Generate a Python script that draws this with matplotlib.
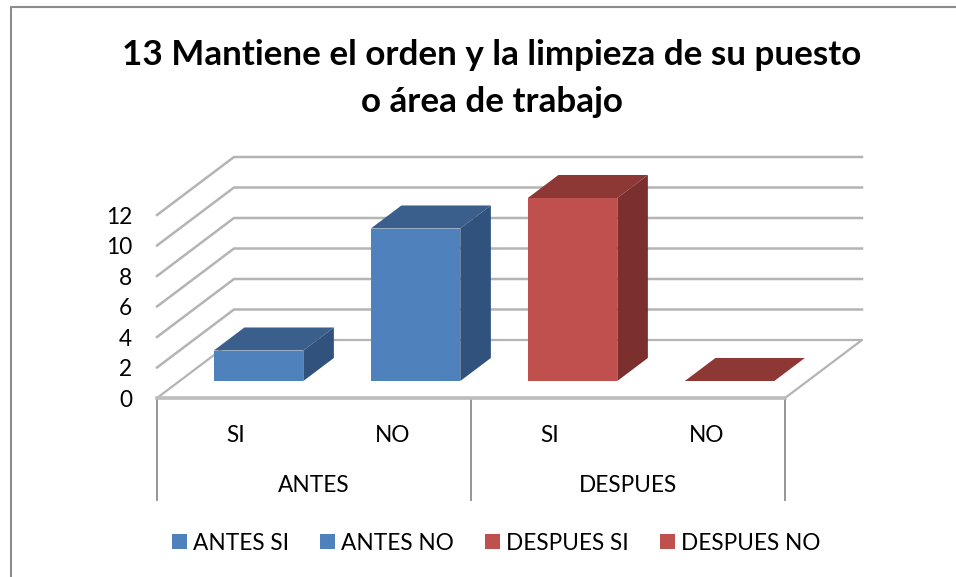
import matplotlib
matplotlib.use("Agg")
import matplotlib.pyplot as plt
from matplotlib.patches import Patch, Polygon

plt.rcParams['font.family'] = ['Lato', 'DejaVu Sans']

title = '13 Mantiene el orden y la limpieza de su puesto\no área de trabajo'
groups = ['ANTES', 'DESPUES']
categories = ['SI', 'NO', 'SI', 'NO']
series_names = ['ANTES SI', 'ANTES NO', 'DESPUES SI', 'DESPUES NO']
values = [2, 10, 12, 0]
y_ticks = [0, 2, 4, 6, 8, 10, 12]

# front, top, side shades per series
blue = ('#4f81bd', '#3a5f8c', '#31527c')
red = ('#c0504d', '#8e3836', '#7c302e')
colors = [blue, blue, red, red]

W, H = 956, 577
# pixels of the chart origin and scales, the rest is in data units
x0, y0 = 157, 398
px_cat = 157.0
px_val = 15.25
depth_x = 77 / px_cat
depth_y = 58 / px_val


def project(x, v, d=0.0):
	# oblique projection of the fake 3d box onto the flat axes
	return (x + d * depth_x, v + d * depth_y)


fig = plt.figure(figsize=(W / 100, H / 100), dpi=100)
ax = fig.add_axes([0, 0, 1, 1])
ax.set_xlim(-x0 / px_cat, (W - x0) / px_cat)
ax.set_ylim((y0 - H) / px_val, y0 / px_val)
ax.axis('off')

# outer chart border, right and bottom run off the picture
ax.plot([11 / W, 11 / W, 1], [0, 1 - 7 / H, 1 - 7 / H], transform=ax.transAxes,
	color='#8c8c8c', lw=1.5, clip_on=False)

# gridlines on side wall and back wall
n_cat = len(categories)
grid_color = '#b4b4b4'
for v in y_ticks:
	a = project(0, v, 0)
	b = project(0, v, 1)
	c = project(n_cat, v, 1)
	if v == 0:
		continue
	ax.plot([a[0], b[0], c[0]], [a[1], b[1], c[1]], color=grid_color, lw=1.8,
		solid_joinstyle='miter', zorder=1)

# floor
floor = [project(0, 0, 0), project(n_cat, 0, 0), project(n_cat, 0, 1), project(0, 0, 1)]
ax.add_patch(Polygon(floor, closed=True, facecolor='white', edgecolor='none', zorder=1.5))
fx = [p[0] for p in floor] + [floor[0][0]]
fy = [p[1] for p in floor] + [floor[0][1]]
ax.plot(fx, fy, color=grid_color, lw=1.6, zorder=2)
ax.plot([0, n_cat], [0, 0], color='#bdbdbd', lw=2.6, zorder=2)

# bars
bar_w = 0.57
d_front = 0.293
d_back = 0.69
for i, v in enumerate(values):
	left = i + 0.5 - bar_w / 2 + 0.5 / px_cat
	right = left + bar_w
	front_c, top_c, side_c = colors[i]
	top = [project(left, v, d_front), project(right, v, d_front),
		project(right, v, d_back), project(left, v, d_back)]
	ax.add_patch(Polygon(top, closed=True, facecolor=top_c, edgecolor='none', zorder=3))
	if v > 0:
		front = [project(left, 0, d_front), project(right, 0, d_front),
			project(right, v, d_front), project(left, v, d_front)]
		side = [project(right, 0, d_front), project(right, 0, d_back),
			project(right, v, d_back), project(right, v, d_front)]
		ax.add_patch(Polygon(side, closed=True, facecolor=side_c, edgecolor='none', zorder=3))
		ax.add_patch(Polygon(front, closed=True, facecolor=front_c, edgecolor='none', zorder=3))

# y tick labels
for v in y_ticks:
	ax.text(-25 / px_cat, v - 2.5 / px_val, str(v), ha='right', va='center', fontsize=16.3,
		color='black')

# group separators
low = -102 / px_val
for x in [0, 2, 4]:
	ax.plot([x, x], [0, low], color='#8c8c8c', lw=1.3, zorder=1)

# category labels
for i, c in enumerate(categories):
	ax.text(i + 0.5, -37 / px_val, c, ha='center', va='center', fontsize=16.3)
for i, g in enumerate(groups):
	ax.text(2 * i + 1, -87 / px_val, g, ha='center', va='center', fontsize=16.3)

# title
ax.text(491.5 / W, 1 - 78.5 / H, title, transform=ax.transAxes, ha='center', va='center',
	fontsize=25.2, fontweight='bold', linespacing=1.6)

# legend
handles = [Patch(facecolor=colors[i][0], label=series_names[i]) for i in range(4)]
ax.legend(handles=handles, ncols=4, frameon=False, loc='center',
	bbox_to_anchor=(496 / W, 1 - 543 / H), fontsize=16.3,
	handlelength=0.66, handleheight=0.66, handletextpad=0.27, columnspacing=1.37,
	borderpad=0, borderaxespad=0)

fig.savefig('out.png', dpi=100)
